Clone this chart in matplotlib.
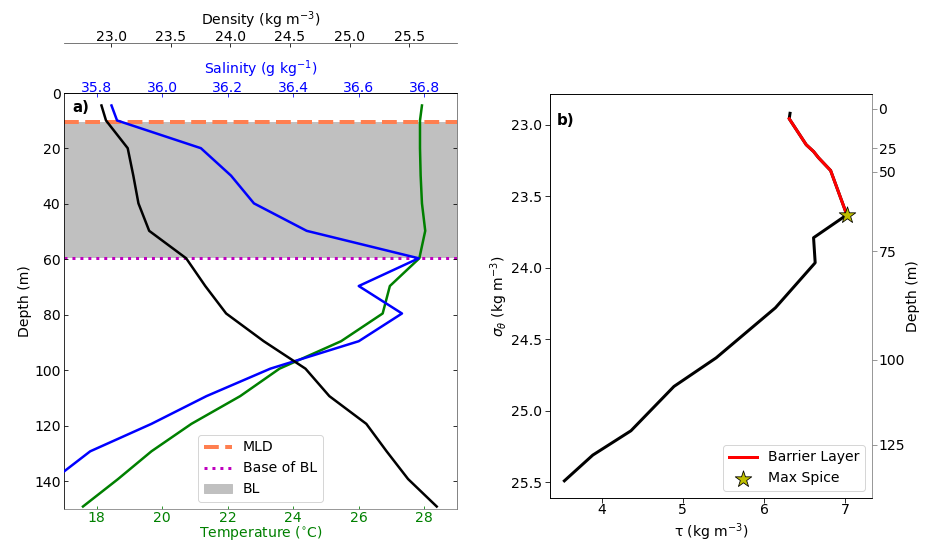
import numpy as np
import matplotlib
matplotlib.use("Agg")
import matplotlib.pyplot as plt
from matplotlib.patches import Patch
from matplotlib.lines import Line2D

# ---------------- data ----------------
depth = [4.5, 9.9, 19.9, 29.8, 39.8, 49.7, 59.6, 69.6, 79.5, 89.5,
         99.4, 109.3, 119.3, 129.2, 139.2, 149.1]
temperature = [27.93, 27.87, 27.87, 27.89, 27.93, 28.03, 27.85, 26.95, 26.73,
               25.46, 23.58, 22.38, 20.89, 19.67, 18.65, 17.58]
salinity = [35.845, 35.862, 36.118, 36.21, 36.28, 36.441, 36.783, 36.60,
            36.732, 36.60, 36.33, 36.135, 35.967, 35.78, 35.67, 35.60]
density = [22.92, 22.958, 23.14, 23.187, 23.23, 23.32, 23.63, 23.79, 23.965,
           24.28, 24.63, 24.83, 25.14, 25.31, 25.49, 25.73]
# spiciness for depths 4.5 ... 139.2
tau = [6.32, 6.31, 6.52, 6.61, 6.67, 6.82, 7.02, 6.61, 6.63, 6.14, 5.41,
       4.89, 4.36, 3.89, 3.54]
mld = 10.3
bl_base = 59.6
depth_ticks = [0, 25, 50, 75, 100, 125]

depth = np.array(depth)
density = np.array(density)
tau = np.array(tau)
n_tau = len(tau)


def interp_extrap(x, xp, fp):
    x = np.asarray(x, float)
    y = np.interp(x, xp, fp)
    lo = x < xp[0]
    y[lo] = fp[0] + (x[lo] - xp[0]) * (fp[1] - fp[0]) / (xp[1] - xp[0])
    return y


DPI = 72
W, H = 927, 541
plt.rcParams['font.size'] = 14
fig = plt.figure(figsize=(W / DPI, H / DPI), dpi=DPI)

# ---------------- panel a ----------------
ax = fig.add_axes([64 / W, 1 - 509 / H, (457 - 64) / W, (509 - 93) / H])
ax.axhspan(mld, bl_base, color='silver', zorder=0, lw=0)
ax.axhline(mld, color='coral', ls='--', lw=4, zorder=1)
ax.axhline(bl_base, color='m', ls=':', lw=3, zorder=1)
ax.plot(temperature, depth, color='g', lw=2.5, zorder=2)
ax.set_xlim(17, 29)
ax.set_ylim(150, 0)
ax.set_xticks(np.arange(18, 29, 2))
ax.set_yticks(np.arange(0, 141, 20))
ax.set_xlabel('Temperature ($^{\\circ}$C)', color='g', labelpad=-1)
ax.set_ylabel('Depth (m)', labelpad=2)
ax.tick_params(axis='x', direction='in', colors='g', pad=1.5)
ax.tick_params(axis='y', direction='in', length=4, pad=3.5)
ax.spines['bottom'].set_color('0.5')
ax.spines['right'].set_color('0.5')
ax.text(0.022, 0.983, 'a)', transform=ax.transAxes, fontsize=15,
        fontweight='bold', va='top', ha='left')

ax_s = ax.twiny()
ax_s.plot(salinity, depth, color='b', lw=2.5, zorder=3)
ax_s.set_xlim(35.7, 36.9)
ax_s.set_xticks([35.8, 36.0, 36.2, 36.4, 36.6, 36.8])
ax_s.set_xlabel('Salinity (g kg$^{-1}$)', color='b', labelpad=7)
ax_s.tick_params(axis='x', direction='in', colors='b', pad=-2)
ax_s.yaxis.set_visible(True)
ax_s.tick_params(axis='y', left=False, right=True, labelleft=False,
                 labelright=False, direction='in', length=4)
for s in ['bottom', 'left']:
    ax_s.spines[s].set_visible(False)
ax_s.spines['right'].set_color('0.5')
ax_s.spines['top'].set_color('k')

ax_d = ax.twiny()
ax_d.plot(density, depth, color='k', lw=2.5, zorder=3)
ax_d.set_xlim(22.606, 25.9)
ax_d.set_xticks([23.0, 23.5, 24.0, 24.5, 25.0, 25.5])
ax_d.set_xlabel('Density (kg m$^{-3}$)', labelpad=5)
ax_d.spines['top'].set_position(('outward', 50))
ax_d.spines['top'].set_color('0.35')
for s in ['bottom', 'left', 'right']:
    ax_d.spines[s].set_visible(False)
ax_d.tick_params(axis='x', direction='in', pad=-1)

handles = [Line2D([], [], color='coral', ls='--', lw=4),
           Line2D([], [], color='m', ls=':', lw=3),
           Patch(color='silver')]
ax_d.legend(handles, ['MLD', 'Base of BL', 'BL'], loc='lower center')

# ---------------- panel b ----------------
bx = fig.add_axes([550 / W, 1 - 498 / H, (872 - 550) / W, (498 - 94) / H])
sig = density[:n_tau]
dep = depth[:n_tau]
in_bl = (dep >= mld - 1) & (dep <= bl_base + 0.01)
bx.plot(tau, sig, color='k', lw=3, zorder=2)
bx.plot(tau[in_bl], sig[in_bl], color='r', lw=3, zorder=3,
        label='Barrier Layer')
imax = int(np.argmax(tau))
bx.scatter([tau[imax]], [sig[imax]], marker='*', s=300, color='y',
           edgecolor='k', linewidth=0.8, zorder=4, label='Max Spice')
bx.set_xlim(3.363, 7.33)
bx.set_ylim(25.61, 22.785)
bx.set_xticks([4, 5, 6, 7])
bx.set_yticks([23.0, 23.5, 24.0, 24.5, 25.0, 25.5])
bx.set_xlabel('τ (kg m$^{-3}$)')
bx.set_ylabel('$\\sigma_{\\theta}$ (kg m$^{-3}$)', labelpad=1)
bx.tick_params(axis='x', length=5, pad=0)
bx.tick_params(axis='y', length=5, pad=3.3)
bx.text(0.022, 0.953, 'b)', transform=bx.transAxes, fontsize=15,
        fontweight='bold', va='top', ha='left')
bx.legend(loc='lower right')

bx2 = bx.twinx()
bx2.set_ylim(bx.get_ylim())
bx2.set_yticks(interp_extrap(depth_ticks, depth, density))
bx2.set_yticklabels([str(d) for d in depth_ticks])
bx2.set_ylabel('Depth (m)', labelpad=1)
bx2.spines['right'].set_color('0.5')
bx2.tick_params(axis='y', colors='0.5', labelcolor='k', length=5, pad=1.5)
bx.spines['right'].set_visible(False)

fig.savefig('out.png', dpi=DPI)
